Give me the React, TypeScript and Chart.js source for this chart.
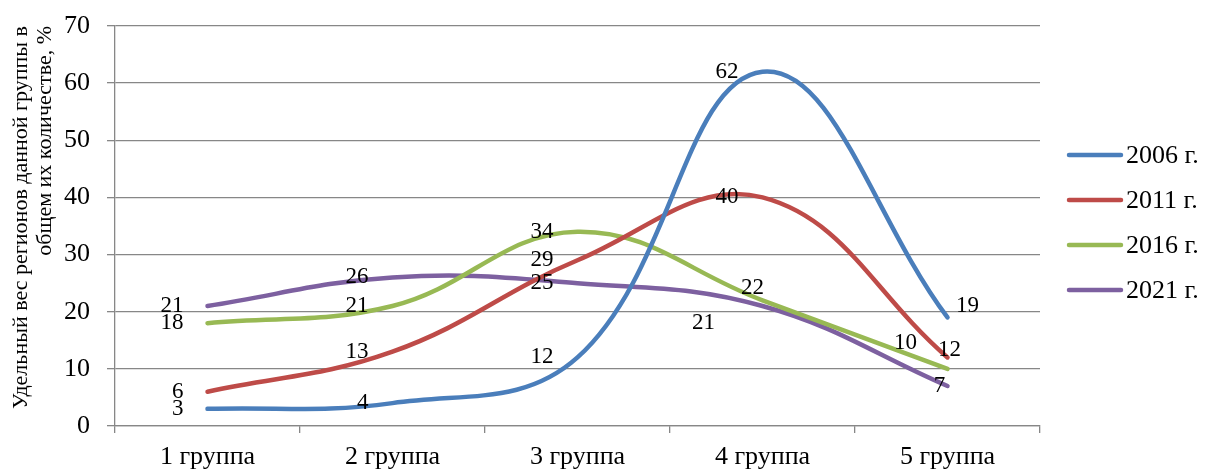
import { useEffect, useRef } from "react";
import { Chart, registerables } from "chart.js";

Chart.register(...registerables);

// ---- data ----
const categories = ["1 группа", "2 группа", "3 группа", "4 группа", "5 группа"];
const seriesNames = ["2006 г.", "2011 г.", "2016 г.", "2021 г."];
const values2006 = [3, 4, 12, 62, 19];
const values2011 = [6, 13, 29, 40, 12];
const values2016 = [18, 21, 34, 22, 10];
const values2021 = [21, 26, 25, 21, 7];
const yMin = 0;
const yMax = 70;
const yStep = 10;
const yTitle = ["Удельный вес регионов данной группы в", "общем их количестве, %"];

// ---- styles ----
const seriesColors = ["#4A7EBB", "#BE4B48", "#98B954", "#7D60A0"];
const FONT = "'Liberation Serif', 'Times New Roman', serif";
const GRID = "#878787";

// data label placement (pixel offsets relative to the point)
type Place = { dx: number; dy: number; align: CanvasTextAlign };
const labelDefault: Place = { dx: -24, dy: 0, align: "right" };
const labelOverrides: Record<string, Place> = {
  "2-3": { dx: -10, dy: -12, align: "center" },
  "3-3": { dx: -59, dy: 17, align: "center" },
  "0-4": { dx: 20, dy: -11, align: "center" },
  "1-4": { dx: 2, dy: -7, align: "center" },
  "2-4": { dx: -42, dy: -26, align: "center" },
  "3-4": { dx: -8, dy: 0, align: "center" },
};

const dataLabelsPlugin = {
  id: "dataLabelsCustom",
  afterDatasetsDraw(chart: any) {
    const ctx = chart.ctx;
    ctx.save();
    ctx.font = `23px ${FONT}`;
    ctx.fillStyle = "#000";
    ctx.textBaseline = "middle";
    chart.data.datasets.forEach((ds: any, di: number) => {
      const meta = chart.getDatasetMeta(di);
      meta.data.forEach((pt: any, pi: number) => {
        const p = labelOverrides[`${di}-${pi}`] || labelDefault;
        ctx.textAlign = p.align;
        ctx.fillText(String(ds.data[pi]), pt.x + p.dx, pt.y + p.dy);
      });
    });
    ctx.restore();
  },
};

const legendPlugin = {
  id: "sideLegend",
  afterDraw(chart: any) {
    const ctx = chart.ctx;
    const area = chart.chartArea;
    const cy = chart.height / 2 - 13;
    ctx.save();
    ctx.font = `26px ${FONT}`;
    ctx.textBaseline = "middle";
    ctx.textAlign = "left";
    chart.data.datasets.forEach((ds: any, i: number) => {
      const y = cy + (i - 1.5) * 45;
      const x0 = area.right + 29;
      ctx.strokeStyle = ds.borderColor;
      ctx.lineWidth = 4.5;
      ctx.lineCap = "round";
      ctx.beginPath();
      ctx.moveTo(x0, y);
      ctx.lineTo(x0 + 52, y);
      ctx.stroke();
      ctx.fillStyle = "#000";
      ctx.fillText(ds.label, x0 + 57, y + 1);
    });
    ctx.restore();
  },
};

export default function App() {
  const ref = useRef<HTMLCanvasElement | null>(null);

  useEffect(() => {
    if (!ref.current) return;
    const seriesValues = [values2006, values2011, values2016, values2021];
    const chart = new Chart(ref.current, {
      type: "line",
      data: {
        labels: categories,
        datasets: seriesNames.map((name, i) => ({
          label: name,
          data: seriesValues[i],
          borderColor: seriesColors[i],
          backgroundColor: seriesColors[i],
          borderWidth: 4.5,
          borderCapStyle: "round" as const,
          borderJoinStyle: "round" as const,
          pointRadius: 0,
          tension: 0.4,
          fill: false,
        })),
      },
      options: {
        animation: false,
        responsive: false,
        events: [],
        layout: { padding: { top: 26, right: 165, bottom: 0, left: 0 } },
        plugins: {
          legend: { display: false },
          tooltip: { enabled: false },
          title: { display: false },
        },
        scales: {
          x: {
            type: "category",
            offset: true,
            grid: {
              offset: true,
              drawOnChartArea: false,
              drawTicks: true,
              tickLength: 7,
              color: GRID,
              lineWidth: 1.3,
            },
            border: { display: true, color: GRID, width: 1.3 },
            ticks: {
              color: "#000",
              font: { family: FONT, size: 26 },
              padding: 9,
              maxRotation: 0,
              autoSkip: false,
            },
            afterFit(scale: any) {
              scale.height = 45;
              scale.paddingLeft = 0;
              scale.paddingRight = 0;
            },
          },
          y: {
            min: yMin,
            max: yMax,
            ticks: {
              stepSize: yStep,
              color: "#000",
              font: { family: FONT, size: 26 },
              padding: 17,
            },
            grid: {
              color: GRID,
              lineWidth: 1.3,
              drawTicks: true,
              tickLength: 8,
            },
            border: { display: true, color: GRID, width: 1.3 },
            title: {
              display: true,
              text: yTitle,
              align: "end",
              color: "#000",
              font: { family: FONT, size: 22, lineHeight: 1.1 },
              padding: { top: 9, bottom: 7 },
            },
            afterFit(scale: any) {
              scale.width = 115;
              scale.paddingTop = 0;
              scale.paddingBottom = 0;
            },
          },
        },
      },
      plugins: [dataLabelsPlugin, legendPlugin],
    });
    return () => chart.destroy();
  }, []);

  return (
    <div style={{ position: "fixed", left: 0, top: 0, width: 1205, height: 471, background: "#fff" }}>
      <canvas ref={ref} width={1205} height={471} style={{ width: 1205, height: 471, display: "block" }} />
    </div>
  );
}
